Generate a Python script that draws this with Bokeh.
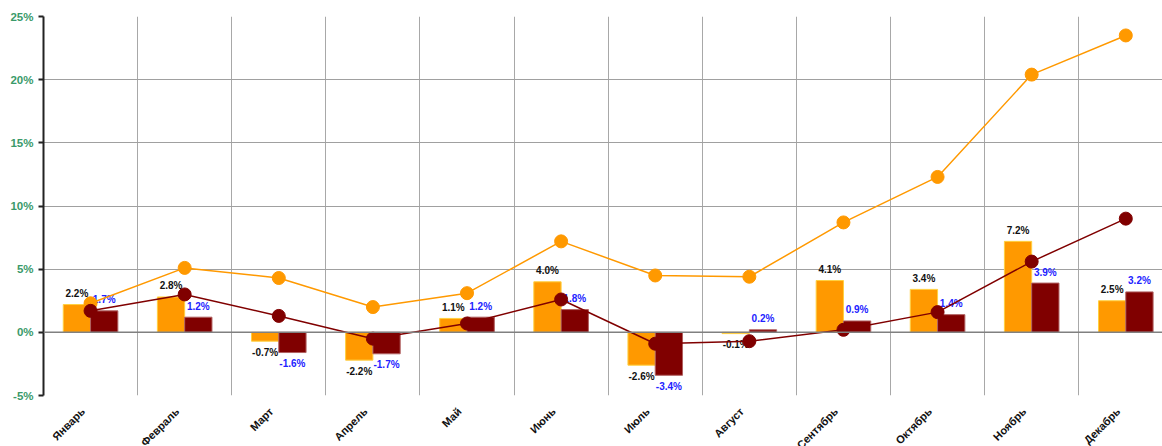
import math
from bokeh.plotting import figure
from bokeh.models import ColumnDataSource, Range1d, FixedTicker, PrintfTickFormatter, Span
from bokeh.core.properties import value
from bokeh.embed import file_html
from bokeh.resources import INLINE

months = ["Январь", "Февраль", "Март", "Апрель", "Май", "Июнь",
          "Июль", "Август", "Сентябрь", "Октябрь", "Ноябрь", "Декабрь"]
bars_a = [2.2, 2.8, -0.7, -2.2, 1.1, 4.0, -2.6, -0.1, 4.1, 3.4, 7.2, 2.5]
bars_b = [1.7, 1.2, -1.6, -1.7, 1.2, 1.8, -3.4, 0.2, 0.9, 1.4, 3.9, 3.2]
line_a = [2.3, 5.1, 4.3, 2.0, 3.1, 7.2, 4.5, 4.4, 8.7, 12.3, 20.4, 23.5]
line_b = [1.7, 3.0, 1.3, -0.5, 0.7, 2.6, -0.9, -0.7, 0.2, 1.6, 5.6, 9.0]
y_ticks = [-5, 0, 5, 10, 15, 20, 25]

ORANGE = "#FF9900"
MAROON = "#800000"
FONT = "Liberation Sans"

centers = [i + 0.5 for i in range(len(months))]
label_pos = [c - 0.08 for c in centers]
bw = 0.29

p = figure(width=1162, height=458, output_backend="svg", toolbar_location=None,
           x_range=Range1d(0, 11.89), y_range=Range1d(-5, 25),
           min_border_left=43, min_border_right=0, min_border_top=16, min_border_bottom=0)
p.outline_line_color = None
p.background_fill_color = "white"
p.border_fill_color = "white"

# grids
p.xgrid.ticker = FixedTicker(ticks=list(range(0, 13)))
p.xgrid.grid_line_color = "#a8a8a8"
p.xgrid.grid_line_width = 1
p.ygrid.ticker = FixedTicker(ticks=y_ticks)
p.ygrid.grid_line_color = "#a0a0a0"
p.ygrid.grid_line_width = 1

# y axis
p.yaxis.ticker = FixedTicker(ticks=y_ticks)
p.yaxis.formatter = PrintfTickFormatter(format="%d%%")
p.yaxis.major_label_text_color = "#3a9a6a"
p.yaxis.major_label_text_font = FONT
p.yaxis.major_label_text_font_style = "bold"
p.yaxis.major_label_text_font_size = "11.5px"
p.yaxis.axis_line_color = "#222222"
p.yaxis.axis_line_width = 2
p.yaxis.major_tick_line_color = "#222222"
p.yaxis.major_tick_line_width = 2
p.yaxis.major_tick_out = 5
p.yaxis.major_tick_in = 0
p.yaxis.minor_tick_line_color = None
p.yaxis.major_label_standoff = 5

# x axis
p.xaxis.ticker = FixedTicker(ticks=label_pos)
p.xaxis.major_label_overrides = {c: m for c, m in zip(label_pos, months)}
p.xaxis.major_label_orientation = math.pi / 4
p.xaxis.major_label_text_font = FONT
p.xaxis.major_label_text_font_style = "bold"
p.xaxis.major_label_text_font_size = "11px"
p.xaxis.major_label_text_color = "#111111"
p.xaxis.axis_line_color = None
p.xaxis.major_tick_line_color = None
p.xaxis.minor_tick_line_color = None
p.xaxis.major_label_standoff = 8

src = ColumnDataSource(dict(
    xa=[c - bw / 2 for c in centers],
    xb=[c + bw / 2 for c in centers],
    a=bars_a, b=bars_b, la=line_a, lb=line_b, xc=centers,
    ta=[f"{v:.1f}%" for v in bars_a],
    tb=[f"{v:.1f}%" for v in bars_b],
    oa=[-11 if v >= 0 else 11 for v in bars_a],
    ob=[-11 if v >= 0 else 11 for v in bars_b],
))

p.vbar(x="xa", width=bw, top="a", bottom=0, source=src,
       fill_color=ORANGE, line_color="#FFD040", line_width=1)
p.vbar(x="xb", width=bw, top="b", bottom=0, source=src,
       fill_color=MAROON, line_color="#b06060", line_width=1)

p.add_layout(Span(location=0, dimension="width", line_color="#808080", line_width=1.5))

p.text(x="xa", y="a", text="ta", y_offset="oa", source=src,
       text_align="center", text_baseline="middle",
       text_font=value(FONT), text_font_style="bold", text_font_size="10px",
       text_color="#111111")
p.text(x="xb", y="b", text="tb", y_offset="ob", source=src,
       text_align="center", text_baseline="middle",
       text_font=value(FONT), text_font_style="bold", text_font_size="10px",
       text_color="#2222ff")

p.line(x="xc", y="la", source=src, line_color=ORANGE, line_width=1.5)
p.scatter(x="xc", y="la", source=src, size=13, fill_color=ORANGE, line_color=ORANGE)
p.line(x="xc", y="lb", source=src, line_color=MAROON, line_width=1.5)
p.scatter(x="xc", y="lb", source=src, size=13, fill_color=MAROON, line_color=MAROON)

open("out.html", "w").write(file_html(p, INLINE))
